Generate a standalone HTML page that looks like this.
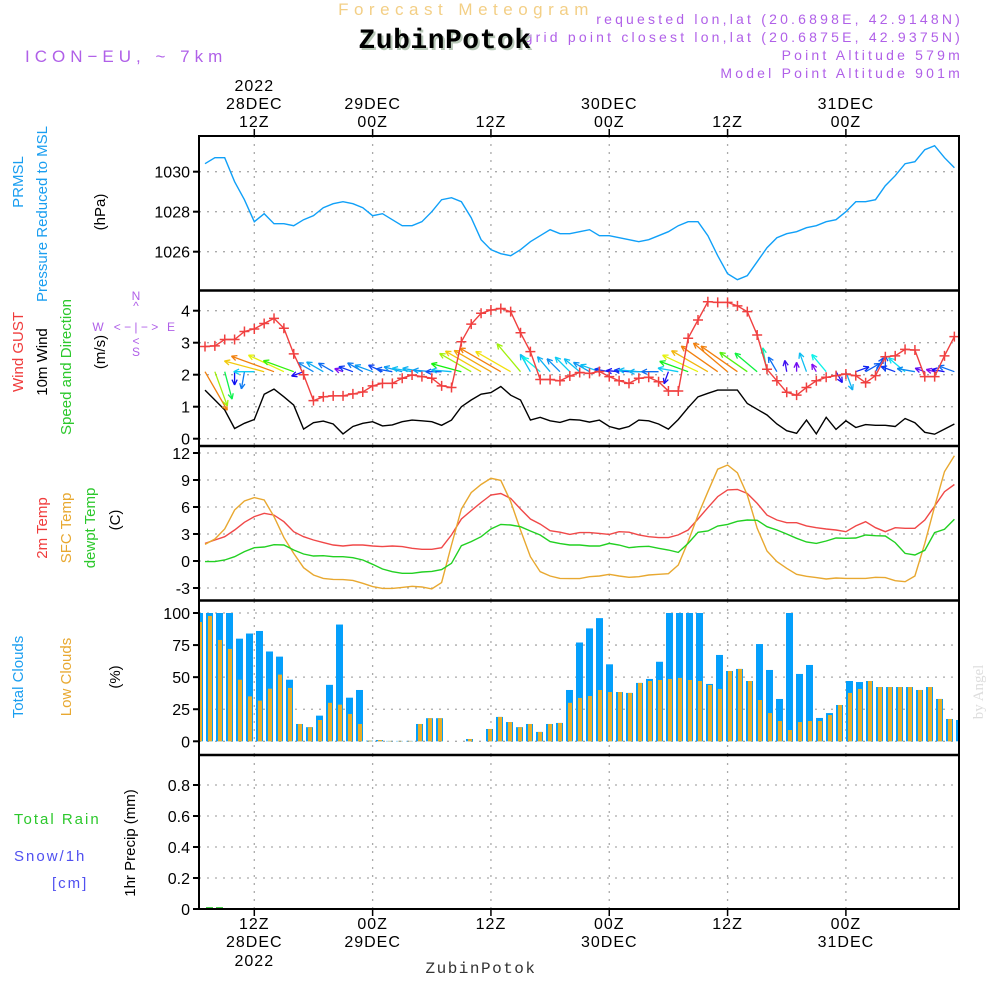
<!DOCTYPE html>
<html><head><meta charset="utf-8"><style>
html,body{margin:0;padding:0;background:#fff}
svg{display:block}
text{font-family:"Liberation Sans",sans-serif}
</style></head><body>
<svg id="chart" width="1000" height="1000" viewBox="0 0 1000 1000" xmlns="http://www.w3.org/2000/svg">
<g id="hdr">
<text x="466" y="15" text-anchor="middle" font-size="17" fill="#f3cf86" letter-spacing="5.5">Forecast Meteogram</text>
<text x="963" y="24" text-anchor="end" font-size="14" fill="#b060e8" letter-spacing="3.2">requested lon,lat (20.6898E, 42.9148N)</text>
<text x="963" y="42" text-anchor="end" font-size="14" fill="#b060e8" letter-spacing="3.2">grid point closest lon,lat (20.6875E, 42.9375N)</text>
<text x="447" y="50" text-anchor="middle" font-size="28" font-weight="bold" fill="#b8c8b8" style="font-family:'Liberation Mono',monospace" letter-spacing="0.5">ZubinPotok</text>
<text x="445" y="48" text-anchor="middle" font-size="28" font-weight="bold" fill="#000" style="font-family:'Liberation Mono',monospace" letter-spacing="0.5">ZubinPotok</text>
<text x="963" y="60" text-anchor="end" font-size="14" fill="#b060e8" letter-spacing="3.2">Point Altitude 579m</text>
<text x="963" y="78" text-anchor="end" font-size="14" fill="#b060e8" letter-spacing="3.2">Model Point Altitude 901m</text>
<text x="25" y="62" font-size="17" fill="#b060e8" letter-spacing="5">ICON−EU, ~ 7km</text>
</g>
<g id="grid"></g>
<g id="marks"></g>
<g id="frame"></g>
<g id="labels">
<text transform="translate(23,182) rotate(-90)" text-anchor="middle" font-size="15" fill="#1a9ef0">PRMSL</text>
<text transform="translate(47,214) rotate(-90)" text-anchor="middle" font-size="15" fill="#1a9ef0">Pressure Reduced to MSL</text>
<text transform="translate(105,212) rotate(-90)" text-anchor="middle" font-size="15" fill="#000">(hPa)</text>
<text transform="translate(23,352) rotate(-90)" text-anchor="middle" font-size="15" fill="#f03c3c">Wind GUST</text>
<text transform="translate(47,362) rotate(-90)" text-anchor="middle" font-size="15" fill="#000">10m Wind</text>
<text transform="translate(71,367) rotate(-90)" text-anchor="middle" font-size="15" fill="#2cc82c">Speed and Direction</text>
<text transform="translate(105,352) rotate(-90)" text-anchor="middle" font-size="15" fill="#000">(m/s)</text>
<g fill="#b060e8" font-size="12" text-anchor="middle">
<text x="136" y="300">N</text><text x="136" y="310">^</text><text x="98" y="331">W</text><text x="136" y="331">&lt; − | − &gt;</text><text x="171" y="331">E</text><text x="136" y="345">&lt;</text><text x="136" y="356">S</text></g>
<text transform="translate(47,528) rotate(-90)" text-anchor="middle" font-size="15" fill="#f03c3c">2m Temp</text>
<text transform="translate(71,528) rotate(-90)" text-anchor="middle" font-size="15" fill="#e8a830">SFC Temp</text>
<text transform="translate(95,528) rotate(-90)" text-anchor="middle" font-size="15" fill="#2cc82c">dewpt Temp</text>
<text transform="translate(120,520) rotate(-90)" text-anchor="middle" font-size="15" fill="#000">(C)</text>
<text transform="translate(23,677) rotate(-90)" text-anchor="middle" font-size="15" fill="#1a9ef0">Total Clouds</text>
<text transform="translate(71,677) rotate(-90)" text-anchor="middle" font-size="15" fill="#e8a830">Low Clouds</text>
<text transform="translate(120,677) rotate(-90)" text-anchor="middle" font-size="15" fill="#000">(%)</text>
<text x="14" y="824" font-size="15" fill="#2cc82c" letter-spacing="2">Total  Rain</text>
<text x="14" y="861" font-size="15" fill="#5050f0" letter-spacing="2">Snow/1h</text>
<text x="52" y="888" font-size="15" fill="#5050f0" letter-spacing="2">[cm]</text>
<text transform="translate(135,843) rotate(-90)" text-anchor="middle" font-size="15" fill="#000">1hr Precip (mm)</text>
<text x="481" y="973" text-anchor="middle" font-size="16" fill="#333" style="font-family:'Liberation Mono',monospace" letter-spacing="1.5">ZubinPotok</text>
<text transform="translate(983,692) rotate(-90)" text-anchor="middle" font-size="15" fill="#ddd" style="font-family:'Liberation Serif',serif">by Angel</text>
</g>
</svg>
<script>
const hours = [];
for (let h = 7; h <= 83; h++) hours.push(h);
const pressure = [1030.4,1030.7,1030.7,1029.5,1028.6,1027.5,1027.9,1027.4,1027.4,1027.3,1027.6,1027.8,1028.2,1028.4,1028.5,1028.4,1028.2,1027.8,1027.9,1027.6,1027.3,1027.3,1027.5,1028.0,1028.6,1028.7,1028.5,1027.7,1026.6,1026.1,1025.9,1025.8,1026.1,1026.5,1026.8,1027.1,1026.9,1026.9,1027.0,1027.1,1026.8,1026.8,1026.7,1026.6,1026.5,1026.6,1026.8,1027.0,1027.3,1027.5,1027.5,1026.8,1025.8,1024.9,1024.6,1024.8,1025.5,1026.2,1026.7,1026.9,1027.0,1027.2,1027.3,1027.5,1027.6,1028.0,1028.5,1028.5,1028.6,1029.3,1029.8,1030.4,1030.5,1031.1,1031.3,1030.7,1030.2];
const gust = [2.88,2.9,3.1,3.1,3.35,3.43,3.6,3.76,3.45,2.65,2.0,1.19,1.31,1.34,1.34,1.4,1.46,1.65,1.73,1.73,1.89,1.99,1.94,1.89,1.65,1.6,3.03,3.58,3.92,4.02,4.07,3.97,3.31,2.72,1.85,1.85,1.81,1.96,2.07,2.04,2.1,1.94,1.81,1.73,1.89,1.92,1.78,1.49,1.49,3.14,3.71,4.28,4.26,4.26,4.15,3.97,3.24,2.17,1.81,1.45,1.36,1.6,1.81,1.92,1.97,2.02,1.97,1.75,1.97,2.56,2.59,2.79,2.77,1.94,1.94,2.59,3.19];
const windSpeed = [1.52,1.21,0.9,0.32,0.48,0.6,1.39,1.55,1.31,1.05,0.3,0.5,0.55,0.46,0.15,0.38,0.48,0.53,0.4,0.43,0.53,0.58,0.56,0.53,0.42,0.58,1.0,1.21,1.39,1.44,1.63,1.36,1.21,0.58,0.67,0.56,0.51,0.6,0.58,0.52,0.58,0.38,0.3,0.38,0.58,0.56,0.46,0.3,0.6,0.97,1.31,1.42,1.52,1.52,1.52,1.1,0.92,0.74,0.46,0.25,0.17,0.58,0.15,0.67,0.29,0.56,0.35,0.44,0.42,0.42,0.38,0.63,0.5,0.2,0.14,0.3,0.46];
const windDir = [-60,-70,-75,-90,-100,180,165,160,155,160,200,150,150,150,160,160,150,160,155,170,165,170,170,175,180,175,165,150,150,150,150,150,130,120,140,130,135,135,140,150,160,170,175,175,175,180,180,-110,170,160,155,150,145,140,145,145,140,100,120,100,90,110,120,130,-60,-70,20,30,60,90,160,140,170,160,165,170,160];
const temp2m = [1.96,2.33,2.7,3.44,4.3,4.93,5.3,5.1,4.37,3.26,2.7,2.33,2.04,1.78,1.67,1.78,1.78,1.67,1.6,1.67,1.6,1.41,1.3,1.3,1.48,2.9,4.67,5.6,6.5,7.33,7.5,6.96,5.78,4.67,4.1,3.37,3.2,2.96,3.15,3.15,3.07,2.96,3.26,3.2,2.9,2.7,2.6,2.6,2.9,3.44,4.67,5.93,7.15,7.9,7.96,7.5,6.4,5.1,4.56,4.26,4.26,3.9,3.7,3.56,3.44,3.26,3.9,4.37,3.7,3.26,3.7,3.63,3.63,4.56,6.1,7.7,8.5];
const tempSfc = [1.85,2.44,3.56,5.67,6.67,7.04,6.78,4.93,2.6,0.85,-0.74,-1.56,-1.93,-2.04,-2.07,-2.15,-2.48,-2.85,-3.04,-3.04,-2.93,-2.81,-2.89,-3.1,-2.4,1.78,5.78,7.6,8.5,9.19,8.96,6.6,3.44,0.48,-1.19,-1.67,-1.93,-1.96,-1.96,-1.74,-1.67,-1.48,-1.67,-1.81,-1.74,-1.56,-1.48,-1.41,-0.44,2.15,5.1,7.7,10.2,10.67,9.8,7.33,3.63,1.11,-0.07,-0.81,-1.48,-1.7,-1.85,-2.0,-1.89,-1.93,-1.93,-1.93,-1.81,-1.85,-2.19,-2.3,-1.67,1.96,6.04,9.93,11.7];
const dewpt = [-0.07,-0.07,0.11,0.48,1.04,1.48,1.56,1.81,1.78,1.22,0.78,0.56,0.59,0.48,0.48,0.37,0.11,-0.37,-0.89,-1.19,-1.37,-1.37,-1.22,-1.15,-0.96,-0.26,1.7,2.15,2.7,3.56,4.07,4.0,3.81,3.33,2.89,2.15,1.93,1.78,1.78,1.67,1.67,1.96,1.78,1.48,1.59,1.63,1.41,1.22,0.96,1.96,3.19,3.33,3.89,4.07,4.41,4.56,4.52,3.81,3.44,3.0,2.52,2.11,1.96,2.22,2.56,2.52,2.56,2.89,2.81,2.78,2.04,0.85,0.67,1.19,3.15,3.52,4.63];
const totalClouds = [100,100,100,100,80,84,86,70,66,48,13.5,11,20,44,91,34,40,0.5,1,0.3,0.3,0.3,13.5,18,18,0,0,1.8,0,9.6,19,15,11,13.5,7.3,13.5,14.3,40,77,88,96,60,38.4,37.7,45.5,48.6,62,100,100,100,100,44.7,67.3,54.8,56.4,47,75.8,55.6,33,100,52.5,59.5,18.2,22,28.3,47,46.2,47,42.3,42.3,42.3,42.3,40,42.3,33,17.4,16.6];
const lowClouds = [93,97.7,79,72,48,35,31.7,41,52,41.6,13.5,11,16.6,30,28.6,21.3,13.5,0.5,1,0.3,0.3,0.3,13.5,18,18,0,0,1.8,0,9.6,19,15,11,13.5,7.3,13.5,14.3,30,33.8,35.3,40,38.4,38.4,37.7,45.5,47,47.8,48.6,49.4,47.8,47,43.9,40.8,54.8,56.4,47,32.2,22,15.8,8.8,15,15.8,15.8,20.5,28.3,37.7,40.8,47,42.3,42.3,42.3,42.3,40,42.3,33,17.4,16.6];
const precip = [0,0.012,0.012,0,0,0,0,0,0,0,0,0,0,0,0,0,0,0,0,0,0,0,0,0,0,0,0,0,0,0,0,0,0,0,0,0,0,0,0,0,0,0,0,0,0,0,0,0,0,0,0,0,0,0,0,0,0,0,0,0,0,0,0,0,0,0,0,0,0,0,0,0,0,0,0,0,0];
const pTicks = [1030,1028,1026];
const wTicks = [0,1,2,3,4];
const tTicks = [12,9,6,3,0,-3];
const cTicks = [100,75,50,25,0];
const rTicks = [0,0.2,0.4,0.6,0.8];
const timeGridHours = [12,24,36,48,60,72];
const topDay = ["28DEC","29DEC","","30DEC","","31DEC"];
const topHour = ["12Z","00Z","12Z","00Z","12Z","00Z"];

const L=199, R=959;
const X = h => 254.3 + (h-12)*9.86;
const XB = i => 199.5 + 10*i;
const yP = v => 171.7 - (v-1030)*20;
const yW = v => 438.7 - v*32;
const yT = v => 561 - v*9;
const yC = v => 741.3 - v*1.283;
const yR = v => 909 - v*155;
const NS="http://www.w3.org/2000/svg";
function mk(tag, parent, attrs){const e=document.createElementNS(NS,tag);for(const k in attrs)e.setAttribute(k,attrs[k]);parent.appendChild(e);return e;}
const grid=document.getElementById('grid'), marks=document.getElementById('marks'), frame=document.getElementById('frame');

const defs=mk('defs',document.getElementById('chart'),{});
const cp=mk('clipPath',defs,{id:'clip'});mk('rect',cp,{x:L,y:136,width:R-L,height:775});

const panels=[[pTicks,yP,136,290,v=>String(v)],[wTicks,yW,291,446,v=>String(v)],[tTicks,yT,446,600,v=>String(v)],[cTicks,yC,601,755,v=>String(v)],[rTicks,yR,755,909,v=>v===0?"0":v.toFixed(1)]];
panels.forEach(([ticks,f,top,bot,fmt])=>{
  ticks.forEach(v=>{
    const y=f(v);
    const gl=mk('line',grid,{x1:L,x2:R,y1:y,y2:y,stroke:'#aaa','stroke-width':1.3,'stroke-dasharray':'2,6'});
    
    
    mk('line',frame,{x1:L-6,x2:L,y1:y,y2:y,stroke:'#000','stroke-width':2});
    const t=mk('text',frame,{x:L-9,y:y+6,'text-anchor':'end','font-size':16,fill:'#000'});
    t.textContent=fmt(v);
    
    
  });
  timeGridHours.forEach(h=>{
    const vl=mk('line',grid,{x1:X(h),x2:X(h),y1:top,y2:bot,stroke:'#aaa','stroke-width':1.3,'stroke-dasharray':'2,6'});
    
    
  });
});

function line(arr,f,color,name){
  const d=arr.map((v,i)=>(i?'L':'M')+X(hours[i]).toFixed(1)+','+f(v).toFixed(1)).join('');
  const p=mk('path',marks,{d:d,fill:'none',stroke:color,'stroke-width':1.4,'clip-path':'url(#clip)'});
  
  
}
const cg=mk('g',marks,{'clip-path':'url(#clip)'});


totalClouds.forEach((v,i)=>{
  const b=mk('rect',cg,{x:XB(i)-3.5,y:yC(v),width:7,height:yC(0)-yC(v),fill:'#049ffb'});
  
  
  const o=mk('rect',cg,{x:XB(i)-1.5,y:yC(lowClouds[i]),width:4,height:yC(0)-yC(lowClouds[i]),fill:'#e8ad2a'});
  
  
});
precip.forEach((v,i)=>{ if(v>0){
  const r=mk('rect',marks,{x:XB(i)-3.5,y:yR(v),width:7,height:yR(0)-yR(v),fill:'#2cc82c'});
  
  
}});
mk('line',marks,{x1:L,x2:R,y1:909,y2:909,stroke:'#000','stroke-width':2,'stroke-dasharray':'6,3'});

line(pressure,yP,'#10a0f8','pressure-line');
line(temp2m,yT,'#f04848','t2m-line');
line(tempSfc,yT,'#e8a830','sfc-temp-line');
line(dewpt,yT,'#22d022','dewpt-line');
line(windSpeed,yW,'#000','wind-speed-line');

function spdColor(s){let hue=270-(s-0.15)/1.35*240;hue=Math.max(30,Math.min(270,hue));return 'hsl('+hue+',90%,50%)';}
windSpeed.forEach((s,i)=>{
  const x0=X(hours[i]), y0=yW(2)-3;
  const len=5+26*s, a=windDir[i]*Math.PI/180;
  const x1=x0+len*Math.cos(a), y1=y0-len*Math.sin(a);
  const c=spdColor(s);
  const g=mk('g',marks,{stroke:c,'stroke-width':1.3,fill:'none','clip-path':'url(#clip)'});
  
  
  mk('line',g,{x1:x0,y1:y0,x2:x1,y2:y1});
  [0.45,-0.45].forEach(da=>{const b=a+Math.PI+da;mk('line',g,{x1:x1,y1:y1,x2:x1+6*Math.cos(b),y2:y1-6*Math.sin(b)});});
});

line(gust,yW,'#f04040','gust-line');
gust.forEach((v,i)=>{
  const x=X(hours[i]),y=yW(v);
  const g=mk('path',marks,{d:`M${x-5},${y}H${x+5}M${x},${y-5}V${y+5}`,stroke:'#f04040','stroke-width':1.5,'clip-path':'url(#clip)'});
  
  
});

mk('rect',frame,{x:L,y:136,width:R-L,height:773,fill:'none',stroke:'#000','stroke-width':2});
[290.5,446,600.5,755].forEach(y=>mk('line',frame,{x1:L,x2:R,y1:y,y2:y,stroke:'#000','stroke-width':2.5}));
timeGridHours.forEach((h,i)=>{
  const x=X(h);
  mk('line',frame,{x1:x,x2:x,y1:129,y2:136,stroke:'#000','stroke-width':1.5});
  mk('line',frame,{x1:x,x2:x,y1:909,y2:916,stroke:'#000','stroke-width':1.5});
  const t1=mk('text',frame,{x:x,y:127,'text-anchor':'middle','font-size':16,fill:'#000','letter-spacing':1});t1.textContent=topHour[i];
  
  
  if(topDay[i]){const t2=mk('text',frame,{x:x,y:109,'text-anchor':'middle','font-size':16,fill:'#000','letter-spacing':1});t2.textContent=topDay[i];
  
  
  const t4=mk('text',frame,{x:x,y:947,'text-anchor':'middle','font-size':16,fill:'#000','letter-spacing':1});t4.textContent=topDay[i];
  
  }
  const t3=mk('text',frame,{x:x,y:929,'text-anchor':'middle','font-size':16,fill:'#000','letter-spacing':1});t3.textContent=topHour[i];
  
  
});
const y1=mk('text',frame,{x:X(12),y:91,'text-anchor':'middle','font-size':16,fill:'#000','letter-spacing':1});y1.textContent='2022';


const y2=mk('text',frame,{x:X(12),y:966,'text-anchor':'middle','font-size':16,fill:'#000','letter-spacing':1});y2.textContent='2022';


</script>
</body></html>
